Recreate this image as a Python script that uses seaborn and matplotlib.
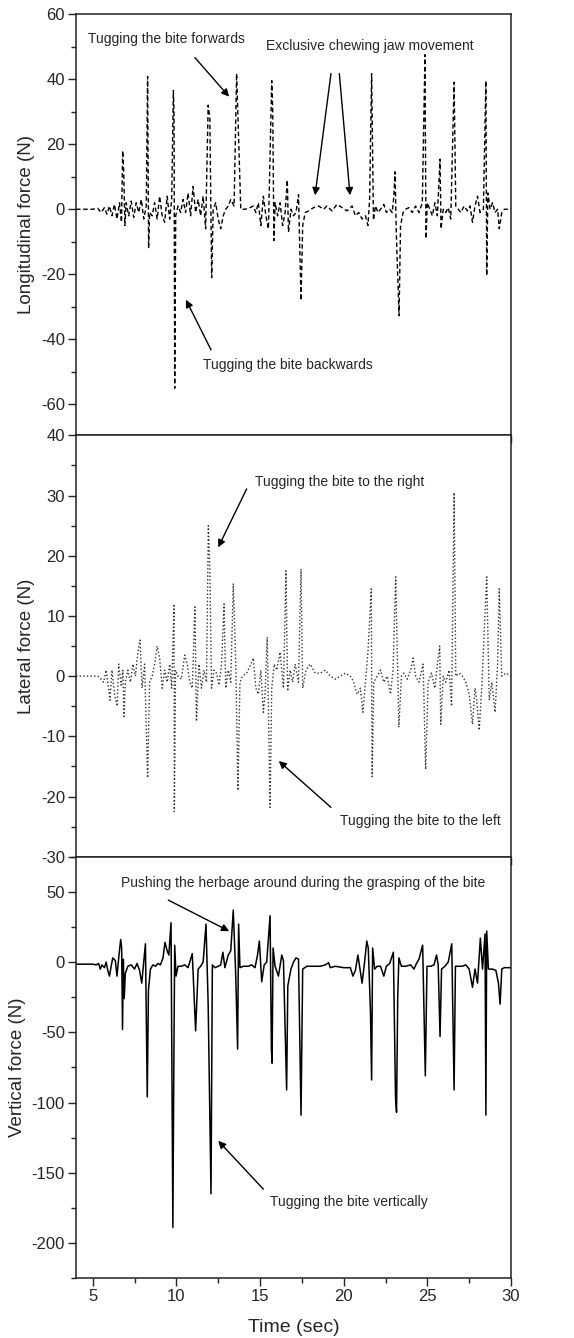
import matplotlib
matplotlib.use("Agg")
import matplotlib.pyplot as plt
import seaborn as sns
import pandas as pd
from matplotlib.ticker import MultipleLocator

# ---------------- data ----------------
t_long = [4.0, 5.0, 5.3, 5.5, 5.7, 5.85, 6.0, 6.15, 6.3, 6.45, 6.6, 6.72, 6.79, 6.85, 6.92,
          7.0, 7.15, 7.3, 7.45, 7.6, 7.75, 7.9, 8.05, 8.2, 8.28, 8.34, 8.4, 8.55, 8.7, 8.85,
          9.0, 9.15, 9.3, 9.45, 9.6, 9.72, 9.82, 9.86, 9.9, 9.96, 10.1, 10.25, 10.4, 10.55,
          10.7, 10.85, 11.0, 11.15, 11.3, 11.45, 11.6, 11.75, 11.9, 12.0, 12.11, 12.2, 12.35,
          12.5, 12.65, 12.8, 12.95, 13.1, 13.25, 13.45, 13.6, 13.7, 13.85, 14.1, 14.4, 14.6,
          14.75, 14.9, 15.05, 15.2, 15.35, 15.5, 15.7, 15.76, 15.83, 15.9, 16.05, 16.2, 16.35,
          16.5, 16.63, 16.7, 16.85, 17.0, 17.15, 17.3, 17.45, 17.55, 17.7, 17.9, 18.2, 18.5,
          18.8, 19.0, 19.3, 19.6, 19.9, 20.2, 20.5, 20.7, 20.9, 21.1, 21.3, 21.45, 21.55,
          21.67, 21.72, 21.78, 21.9, 22.05, 22.2, 22.4, 22.55, 22.75, 22.9, 23.0, 23.07,
          23.15, 23.31, 23.4, 23.55, 23.7, 23.9, 24.1, 24.3, 24.5, 24.7, 24.86, 24.92, 25.0,
          25.15, 25.3, 25.45, 25.6, 25.76, 25.82, 25.95, 26.1, 26.25, 26.4, 26.6, 26.7, 26.85,
          27.0, 27.2, 27.4, 27.55, 27.7, 27.85, 28.0, 28.15, 28.35, 28.5, 28.55, 28.62, 28.75,
          28.9, 29.05, 29.2, 29.3, 29.45, 29.6, 30.0]
f_long = [0, 0, 0.3, -1, 0.5, -1.5, 1, -2, 1.5, -3, 2, -4, 18, 12, -5,
          2, -2, 2.5, -2.5, 2, -1, 3, -3, 1, 40.8, -12, -1, -2, 2, -3,
          4, -2, -4, 4, -3, 3, 36.5, 30, -55, -2, 1, -1, 3, -1,
          5, -2, 7, -1, 3, -2, 4, -6, 32, 28, -21, 0, 2,
          -3, -6, -2, 0, 1, 3, 1, 41.7, 25, 0, 0, 0.5, 1,
          -1, 2, -5, 4, -2, -6, 39.5, 30, -9.6, 2, -2, 2, -5,
          -1, 9, -7, 0, -2, -1, 4.5, -28, -5, -1, -0.5, 0.5, 1,
          0, 1, -0.5, 1.5, 0.5, -0.5, 1, -2, -1, -3, -2, -5, 3,
          41.7, 22, -3.4, 1, -1, 0, 1.5, -1, 0, -1, 4, 11.5,
          -8, -32.7, -5, -1, 0, 0.5, -1, 1, -1, 2, 47.5, -9, 2,
          0, -2, 2, -2, 15.4, -6, 0, -1, 0.5, -3, 39, 1, 0,
          -1, 1, -0.5, 1, -4, 1, 4, -1, 0, 39.5, -20.4, 5, 0,
          2, -1, 0, -6, -1, 0, 0]

t_lat = [4.0, 5.0, 5.3, 5.5, 5.65, 5.8, 5.95, 6.03, 6.15, 6.3, 6.46, 6.55, 6.7, 6.8, 6.87,
         6.95, 7.1, 7.25, 7.4, 7.55, 7.7, 7.83, 7.95, 8.1, 8.28, 8.4, 8.55, 8.7, 8.85, 9.0,
         9.15, 9.3, 9.45, 9.6, 9.72, 9.86, 9.88, 9.95, 10.1, 10.3, 10.5, 10.65, 10.8, 10.95,
         11.11, 11.2, 11.35, 11.5, 11.65, 11.8, 11.91, 12.0, 12.1, 12.25, 12.4, 12.55, 12.7,
         12.85, 12.95, 13.1, 13.25, 13.4, 13.55, 13.68, 13.8, 13.95, 14.2, 14.45, 14.6, 14.75,
         14.9, 15.05, 15.2, 15.3, 15.43, 15.6, 15.7, 15.85, 16.0, 16.2, 16.4, 16.55, 16.65,
         16.8, 16.95, 17.1, 17.3, 17.45, 17.55, 17.75, 18.0, 18.3, 18.6, 18.9, 19.2, 19.5,
         19.8, 20.1, 20.4, 20.6, 20.8, 21.0, 21.15, 21.3, 21.45, 21.65, 21.7, 21.8, 22.0,
         22.2, 22.4, 22.6, 22.8, 22.95, 23.11, 23.3, 23.45, 23.6, 23.8, 24.0, 24.15, 24.3,
         24.5, 24.75, 24.9, 25.05, 25.25, 25.45, 25.6, 25.74, 25.8, 25.95, 26.1, 26.3, 26.45,
         26.6, 26.7, 26.9, 27.1, 27.3, 27.5, 27.7, 27.85, 27.95, 28.1, 28.25, 28.38, 28.55,
         28.7, 28.85, 29.05, 29.2, 29.3, 29.45, 29.7, 30.0]
f_lat = [0, 0, 0, -0.5, -1, 1, -2, -4, 1, -3, -5, 2, -1.5, 1, -6.7,
         -1, 1, -1, 2, 0, 4, 6, -2, 2, -16.9, -1, 0, 2, 5, 3,
         -2, 1, -1, 2, -2, 12, -22.5, 1, 0, -0.5, 3.5, 2, -1, -2,
         11.5, -7.5, 2, -2, 1, -1, 25, 18, -2, 1, 0.5, -1.5, 2,
         12, -2, 1, -1, 15.4, 2, -19, -1, 0, 0.5, 2, 3, -2,
         -3, 1, -6, -3, 6.5, -21.8, -2, 2, 1, 4, -2, 17.5, -2.5,
         1, -1, 2, -1, 17.8, -2, 1, 2, 0.5, 0.5, 1, 0, -0.5,
         0, 0.5, 0, -1, -3, -2, -6, -1, 4, 14.5, -16.7, -1, 0,
         1, -1, 0, -3, 1, 16.5, -8.5, 0, 0.5, -0.5, 1, 3, 0,
         -1, 2, -15.5, -1, 0.5, -2, 2, 5, -8, 0, -1, 1, -5,
         30.5, 0, 0.5, 0, -1, -3, -8, -2, -4, -9, -2, 6, 16.5,
         -4, -1, -6, 2, 14.5, 0, 0.5, 0]

t_vert = [4.0, 5.0, 5.2, 5.35, 5.45, 5.55, 5.7, 5.8, 5.9, 6.0, 6.1, 6.2, 6.35, 6.45, 6.57,
          6.67, 6.73, 6.78, 6.83, 6.88, 6.95, 7.1, 7.3, 7.5, 7.65, 7.8, 7.93, 8.05, 8.15,
          8.26, 8.33, 8.45, 8.6, 8.75, 8.9, 9.05, 9.2, 9.32, 9.45, 9.55, 9.68, 9.79, 9.85,
          9.9, 9.98, 10.1, 10.3, 10.5, 10.7, 10.85, 10.95, 11.15, 11.3, 11.45, 11.6, 11.77,
          11.9, 12.07, 12.15, 12.3, 12.5, 12.65, 12.78, 12.9, 13.1, 13.25, 13.4, 13.55, 13.66,
          13.72, 13.8, 14.0, 14.3, 14.5, 14.7, 14.85, 14.96, 15.1, 15.25, 15.4, 15.6, 15.68,
          15.72, 15.78, 15.9, 16.1, 16.3, 16.4, 16.59, 16.66, 16.85, 17.0, 17.15, 17.3, 17.45,
          17.55, 17.8, 18.2, 18.6, 18.9, 19.1, 19.2, 19.5, 20.0, 20.4, 20.55, 20.7, 20.85,
          20.95, 21.1, 21.25, 21.38, 21.47, 21.6, 21.67, 21.73, 21.85, 22.0, 22.2, 22.4, 22.55,
          22.75, 22.97, 23.1, 23.16, 23.23, 23.3, 23.45, 23.7, 24.0, 24.2, 24.35, 24.5, 24.72,
          24.88, 24.98, 25.2, 25.4, 25.55, 25.65, 25.76, 25.85, 26.05, 26.25, 26.46, 26.6,
          26.68, 26.9, 27.1, 27.3, 27.5, 27.7, 27.85, 28.0, 28.17, 28.3, 28.45, 28.5, 28.55,
          28.65, 28.9, 29.1, 29.25, 29.35, 29.45, 29.6, 30.0]
f_vert = [-1.5, -1.5, -2, -1, -5, -2, -4, 0, -6, -10, -3, 3, 1, -10, 5,
          16, 10, -48, 2, -26, -8, -3, -2, -5, -1, -6, -15, 0, 13,
          -96, -20, -5, -2, -3, -1, -2, 3, 14, 8, 5, 28, -189, -70,
          12, -10, -3, -3, -2, -4, 2, 6, -49, -5, -3, 0, 27,
          -30, -165, -2, -4, -3, -2, 7, -4, 5, 8, 37, -10, -62,
          27, -4, -3, -3, -2, -4, 5, 15, -14, -2, 0, 33, -62,
          -72, 10, -3, -10, 5, 1, -91, -17, -5, 0, 3, 2, -109,
          -5, -3, -3, -3, -2, -0.5, -4, -3, -4, -4, -10, -6, 5,
          -3, -15, 0, 15, 10, -35, -84, 10, -5, -3, -3, -10, -3,
          -1, 7, -97, -107, -25, 3, -3, -3, -2, -5, -1, 2, 12,
          -81, -3, -3, -2, 5, -2, -53, -5, -3, 0, 13, -91,
          -3, -3, -3, -2, -5, -18, -5, -15, 17, -5, 20, -109, 22,
          -5, -5, -6, -15, -30, -5, -4, -4]

x_ticks = [5, 10, 15, 20, 25, 30]
y_labels = ["Longitudinal force (N)", "Lateral force (N)", "Vertical force (N)"]

# ---------------- figure ----------------
sns.set_theme(style="ticks")
plt.rcParams["font.family"] = ["Liberation Sans", "DejaVu Sans"]
plt.rcParams["axes.unicode_minus"] = False

fig, axes = plt.subplots(3, 1, figsize=(5.74, 13.38), dpi=100, sharex=True)
fig.subplots_adjust(left=0.1324, right=0.8902, top=0.9895, bottom=0.0448, hspace=0)

df_long = pd.DataFrame({"t": t_long, "f": f_long})
df_lat = pd.DataFrame({"t": t_lat, "f": f_lat})
df_vert = pd.DataFrame({"t": t_vert, "f": f_vert})

sns.lineplot(data=df_long, x="t", y="f", ax=axes[0], color="black", lw=1.0,
             linestyle=(0, (3.2, 2.0)), estimator=None, sort=False)
sns.lineplot(data=df_lat, x="t", y="f", ax=axes[1], color="#333333", lw=1.0,
             linestyle=(0, (1.0, 1.6)), estimator=None, sort=False)
sns.lineplot(data=df_vert, x="t", y="f", ax=axes[2], color="black", lw=1.1,
             estimator=None, sort=False)

ylims = [(-69.5, 60), (-30, 40), (-225, 75)]
ymaj = [20, 10, 50]
for ax, yl, ym, lab in zip(axes, ylims, ymaj, y_labels):
    ax.set_xlim(4, 30)
    ax.set_ylim(*yl)
    ax.xaxis.set_major_locator(MultipleLocator(5))
    ax.xaxis.set_minor_locator(MultipleLocator(2.5))
    ax.yaxis.set_major_locator(MultipleLocator(ym))
    ax.yaxis.set_minor_locator(MultipleLocator(ym / 2))
    ax.tick_params(which="major", direction="out", length=6, width=1.0,
                   labelsize=12, color="#222222", pad=2)
    ax.tick_params(which="minor", direction="out", length=3.5, width=1.0,
                   color="#222222")
    ax.tick_params(axis="both", which="both", top=False, right=False)
    for s in ax.spines.values():
        s.set_visible(True)
        s.set_linewidth(1.1)
        s.set_color("#222222")
    ax.set_ylabel(lab, fontsize=13.5, labelpad=4)
    ax.set_xlabel("")

axes[0].set_yticks([-60, -40, -20, 0, 20, 40, 60])
axes[1].set_yticks([-30, -20, -10, 0, 10, 20, 30, 40])
axes[2].set_yticks([-200, -150, -100, -50, 0, 50])
axes[2].set_xticks(x_ticks)
axes[2].set_xlabel("Time (sec)", fontsize=14, labelpad=11)

arrow = dict(arrowstyle="-|>", color="black", lw=1.0, mutation_scale=11,
             shrinkA=0, shrinkB=0)
afs = 10

# top panel annotations
ax = axes[0]
ax.text(4.72, 52.2, "Tugging the bite forwards", fontsize=afs, va="center", ha="left")
ax.annotate("", xy=(13.15, 34.6), xytext=(11.11, 46.6), arrowprops=arrow)
ax.text(15.36, 50.1, "Exclusive chewing jaw movement", fontsize=afs, va="center", ha="left")
ax.annotate("", xy=(18.29, 4.3), xytext=(19.24, 41.7), arrowprops=arrow)
ax.annotate("", xy=(20.38, 4.3), xytext=(19.74, 41.7), arrowprops=arrow)
ax.text(11.59, -48, "Tugging the bite backwards", fontsize=afs, va="center", ha="left")
ax.annotate("", xy=(10.57, -27.8), xytext=(12.07, -43.2), arrowprops=arrow)

# middle panel annotations
ax = axes[1]
ax.text(14.70, 32.3, "Tugging the bite to the right", fontsize=afs, va="center", ha="left")
ax.annotate("", xy=(12.5, 21.4), xytext=(14.2, 31.1), arrowprops=arrow)
ax.text(19.78, -24, "Tugging the bite to the left", fontsize=afs, va="center", ha="left")
ax.annotate("", xy=(16.12, -14.1), xytext=(19.24, -21.8), arrowprops=arrow)

# bottom panel annotations
ax = axes[2]
ax.text(6.67, 56, "Pushing the herbage around during the grasping of the bite",
        fontsize=afs, va="center", ha="left")
ax.annotate("", xy=(13.16, 22), xytext=(9.52, 44.1), arrowprops=arrow)
ax.text(15.6, -170.5, "Tugging the bite vertically", fontsize=afs, va="center", ha="left")
ax.annotate("", xy=(12.5, -127.3), xytext=(15.2, -161.7), arrowprops=arrow)

fig.savefig("out.png", dpi=100)
